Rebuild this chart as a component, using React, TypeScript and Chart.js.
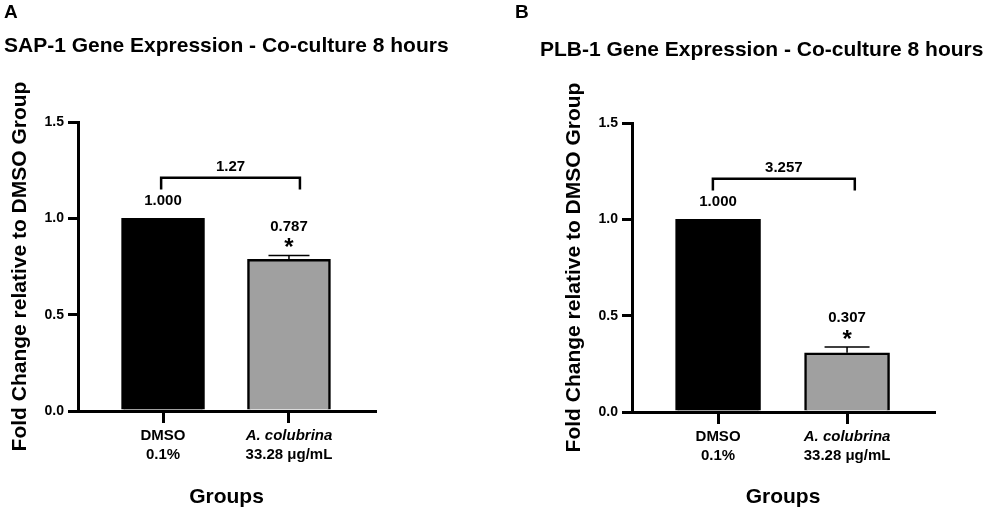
import { useEffect, useRef } from 'react'
import { Chart, registerables } from 'chart.js'

Chart.register(...registerables)

const FONT = '"Liberation Sans", Arial, Helvetica, sans-serif'

// groups on the x axis
const groupNames = ['DMSO', 'A. colubrina']
const groupDoses = ['0.1%', '33.28 μg/mL']
const groupPositions = [1, 2]
const yTicks = [0, 0.5, 1.0, 1.5]

// panel A - SAP-1
const sapValues = [1.0, 0.787]
const sapErrors = [0, 0.02]
const sapStars = ['', '*']
const sapRatio = '1.27'

// panel B - PLB-1
const plbValues = [1.0, 0.307]
const plbErrors = [0, 0.03]
const plbStars = ['', '*']
const plbRatio = '3.257'

// comparison bracket height (fold change units)
const bracketLevel = 1.21
const bracketFoot = 1.15

const barColors = ['#000000', '#a0a0a0']
const italicNames = [false, true]

type PanelProps = {
  letter: string
  title: string
  values: number[]
  errors: number[]
  stars: string[]
  ratio: string
  x: number
  width: number
  area: { left: number; right: number; top: number; bottom: number }
  xRange: [number, number]
  barWidth: number
  capWidth: number
  yTitlePad: number
  letterX: number
  titleX: number
  titleY: number
  bracketX: [number, number]
}

function Panel(p: PanelProps) {
  const canvasRef = useRef<HTMLCanvasElement>(null)

  useEffect(() => {
    const ctx = canvasRef.current!.getContext('2d')!

    const annotate = {
      id: 'annotate',
      afterDatasetsDraw(chart: any) {
        const { ctx, chartArea, scales } = chart
        const xs = scales.x
        const ys = scales.y
        ctx.save()
        ctx.fillStyle = '#000'
        ctx.strokeStyle = '#000'
        ctx.textAlign = 'center'
        ctx.textBaseline = 'middle'

        p.values.forEach((v, i) => {
          const px = xs.getPixelForValue(groupPositions[i])
          const top = ys.getPixelForValue(v + p.errors[i])
          if (p.errors[i] > 0) {
            ctx.lineWidth = 1.5
            ctx.beginPath()
            ctx.moveTo(px, ys.getPixelForValue(v))
            ctx.lineTo(px, top)
            ctx.moveTo(px - p.capWidth / 2, top)
            ctx.lineTo(px + p.capWidth / 2, top)
            ctx.stroke()
          }
          ctx.font = `bold 15px ${FONT}`
          if (p.stars[i]) {
            ctx.fillText(v.toFixed(3), px, top - 29)
            ctx.font = `bold 24px ${FONT}`
            ctx.fillText(p.stars[i], px, top - 7)
          } else {
            ctx.fillText(v.toFixed(3), px, top - 17)
          }

          // category labels
          ctx.font = `${italicNames[i] ? 'italic ' : ''}bold 15px ${FONT}`
          ctx.fillText(groupNames[i], px, chartArea.bottom + 25)
          ctx.font = `bold 15px ${FONT}`
          ctx.fillText(groupDoses[i], px, chartArea.bottom + 43.5)
        })

        // comparison bracket
        const bx0 = xs.getPixelForValue(p.bracketX[0])
        const bx1 = xs.getPixelForValue(p.bracketX[1])
        const by = ys.getPixelForValue(bracketLevel)
        const bf = ys.getPixelForValue(bracketFoot)
        ctx.lineWidth = 2.5
        ctx.beginPath()
        ctx.moveTo(bx0, bf)
        ctx.lineTo(bx0, by)
        ctx.lineTo(bx1, by)
        ctx.lineTo(bx1, bf)
        ctx.stroke()
        ctx.font = `bold 15px ${FONT}`
        ctx.fillText(p.ratio, (bx0 + bx1) / 2, by - 11)

        // panel letter and title
        ctx.textAlign = 'left'
        ctx.font = `bold 19px ${FONT}`
        ctx.fillText(p.letter, p.letterX, 13)
        ctx.font = `bold 21px ${FONT}`
        ctx.fillText(p.title, p.titleX, p.titleY)
        ctx.restore()
      }
    }

    const chart = new Chart(ctx, {
      type: 'bar',
      data: {
        datasets: [{
          data: p.values.map((v, i) => ({ x: groupPositions[i], y: v })),
          backgroundColor: barColors,
          borderColor: '#000',
          borderWidth: 2.5,
          barThickness: p.barWidth
        }]
      },
      options: {
        animation: false,
        responsive: true,
        maintainAspectRatio: false,
        layout: { padding: { left: 0, top: p.area.top, right: p.width - p.area.right, bottom: 0 } },
        plugins: { legend: { display: false }, tooltip: { enabled: false } },
        scales: {
          x: {
            type: 'linear',
            min: p.xRange[0],
            max: p.xRange[1],
            offset: false,
            afterBuildTicks: (s: any) => { s.ticks = groupPositions.map(value => ({ value })) },
            afterFit: (s: any) => { s.height = 511 - p.area.bottom },
            ticks: { autoSkip: false, callback: () => '' },
            grid: { offset: false, drawOnChartArea: false, drawTicks: true, tickLength: 12, lineWidth: 3, color: '#000' },
            border: { display: true, width: 3, color: '#000' },
            title: {
              display: true,
              text: 'Groups',
              color: '#000',
              font: { family: FONT, size: 21, weight: 'bold', lineHeight: 1.2 },
              padding: { top: 0, bottom: 1 }
            }
          },
          y: {
            min: 0,
            max: 1.5,
            afterBuildTicks: (s: any) => { s.ticks = yTicks.map(value => ({ value })) },
            afterFit: (s: any) => { s.width = p.area.left },
            ticks: {
              color: '#000',
              padding: 4,
              font: { family: FONT, size: 14, weight: 'bold' },
              callback: (v: any) => Number(v).toFixed(1)
            },
            grid: { drawOnChartArea: false, drawTicks: true, tickLength: 10, lineWidth: 3, color: '#000' },
            border: { display: true, width: 3, color: '#000' },
            title: {
              display: true,
              text: 'Fold Change relative to DMSO Group',
              color: '#000',
              font: { family: FONT, size: 21, weight: 'bold', lineHeight: 1.2 },
              padding: { top: p.yTitlePad, bottom: 0 }
            }
          }
        }
      } as any,
      plugins: [annotate]
    })

    return () => chart.destroy()
  }, [])

  return (
    <div style={{ position: 'absolute', left: p.x, top: 0, width: p.width, height: 511 }}>
      <canvas ref={canvasRef}></canvas>
    </div>
  )
}

export default function App() {
  return (
    <div style={{ position: 'fixed', left: 0, top: 0, width: 989, height: 511, background: '#fff' }}>
      <Panel
        letter="A"
        title="SAP-1 Gene Expression - Co-culture 8 hours"
        values={sapValues}
        errors={sapErrors}
        stars={sapStars}
        ratio={sapRatio}
        x={0}
        width={490}
        area={{ left: 78, right: 375, top: 122, bottom: 411 }}
        xRange={[0.325, 2.683]}
        barWidth={83}
        capWidth={41}
        yTitlePad={8}
        letterX={4}
        titleX={4}
        titleY={46}
        bracketX={[0.985, 2.087]}
      />
      <Panel
        letter="B"
        title="PLB-1 Gene Expression - Co-culture 8 hours"
        values={plbValues}
        errors={plbErrors}
        stars={plbStars}
        ratio={plbRatio}
        x={490}
        width={499}
        area={{ left: 142, right: 444, top: 123, bottom: 412 }}
        xRange={[0.333, 2.674]}
        barWidth={85}
        capWidth={45}
        yTitlePad={72}
        letterX={25}
        titleX={50}
        titleY={50}
        bracketX={[0.96, 2.06]}
      />
    </div>
  )
}
